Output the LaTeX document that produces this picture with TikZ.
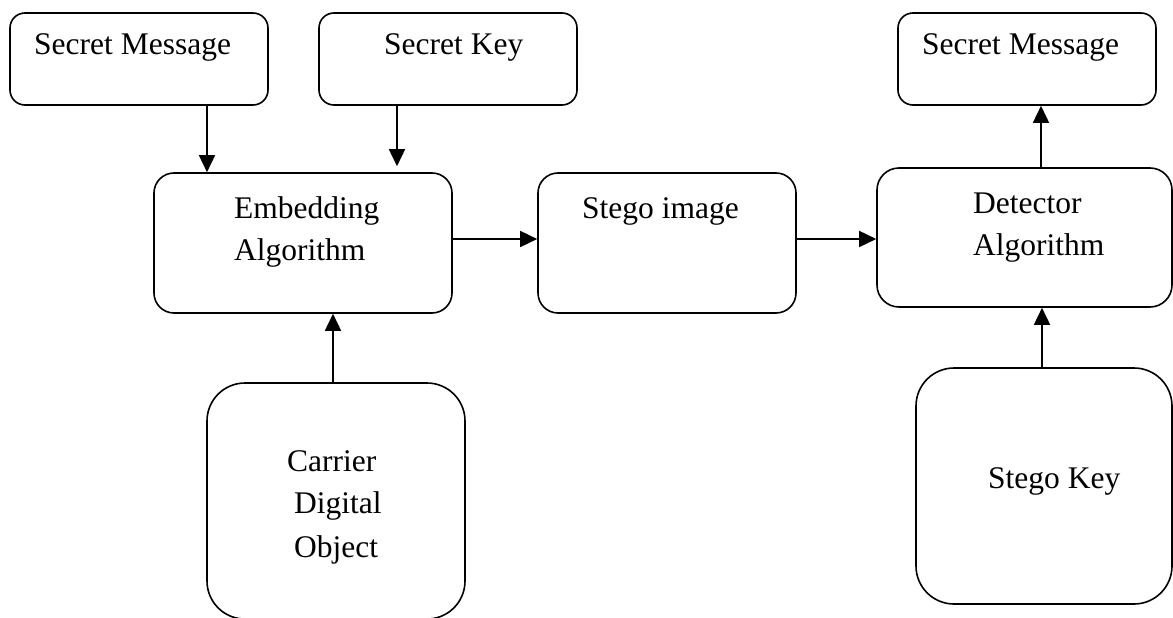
\documentclass[tikz,border=0pt]{standalone}
\usepackage{fontspec}
\setmainfont{Liberation Serif}
\usetikzlibrary{arrows.meta}
\begin{document}
\begin{tikzpicture}[x=1pt,y=1pt,
  box/.style={draw=black, line width=1.6pt, rectangle, inner sep=0pt},
  lbl/.style={anchor=base west, inner sep=0pt, font=\fontsize{31.5}{36}\selectfont},
  arr/.style={line width=1.6pt, -{Triangle[length=17pt,width=16pt]}}]
\useasboundingbox (0,0) rectangle (1173,-618);
\clip (0,0) rectangle (1173,-618);

% boxes
\node[box, rounded corners=15pt, minimum width=258pt, minimum height=92pt] (sm1) at (139,-59) {};
\node[box, rounded corners=15pt, minimum width=258pt, minimum height=92pt] (sk) at (448,-59) {};
\node[box, rounded corners=15pt, minimum width=258pt, minimum height=92pt] (sm2) at (1027,-59) {};
\node[box, rounded corners=20pt, minimum width=298pt, minimum height=140pt] (emb) at (303,-243) {};
\node[box, rounded corners=20pt, minimum width=258pt, minimum height=140pt] (stego) at (667,-243) {};
\node[box, rounded corners=22pt, minimum width=295pt, minimum height=139pt] (det) at (1024.5,-237.5) {};
\node[box, rounded corners=38pt, minimum width=258pt, minimum height=236pt] (car) at (336,-501) {};
\node[box, rounded corners=38pt, minimum width=256pt, minimum height=236pt] (skey) at (1044,-486) {};

% labels
\node[lbl] (t1) at (34,-55) {Secret Message};
\node[lbl] (t2) at (384,-55) {Secret Key};
\node[lbl] (t3) at (922,-55) {Secret Message};
\node[lbl] (t4) at (234,-218) {Embedding};
\node[lbl] (t5) at (234,-260) {Algorithm};
\node[lbl] (t6) at (582,-218) {Stego image};
\node[lbl] (t7) at (973,-213) {Detector};
\node[lbl] (t8) at (973,-255) {Algorithm};
\node[lbl] (t9) at (287,-471) {Carrier};
\node[lbl] (t10) at (294,-513) {Digital};
\node[lbl] (t11) at (294,-557) {Object};
\node[lbl] (t12) at (988,-488) {Stego Key};

% connector start points
\coordinate (p1) at ([xshift=68pt]sm1.south);
\coordinate (p2) at ([xshift=-51pt]sk.south);
\coordinate (p3) at ([yshift=4pt]emb.east);
\coordinate (p4) at ([yshift=4pt]stego.east);
\coordinate (p5) at ([xshift=-3pt]car.north);
\coordinate (p6) at ([xshift=-2pt]skey.north);
\coordinate (p7) at ([xshift=16.5pt]det.north);
\coordinate (q2) at ([yshift=6pt]p2 |- emb.north);

% connectors
\draw[arr] (p1) -- (p1 |- emb.north);
\draw[arr] (p2) -- (q2);
\draw[arr] (p3) -- (p3 -| stego.west);
\draw[arr] (p4) -- (p4 -| det.west);
\draw[arr] (p5) -- (p5 |- emb.south);
\draw[arr] (p6) -- (p6 |- det.south);
\draw[arr] (p7) -- (p7 |- sm2.south);
\end{tikzpicture}
\end{document}
